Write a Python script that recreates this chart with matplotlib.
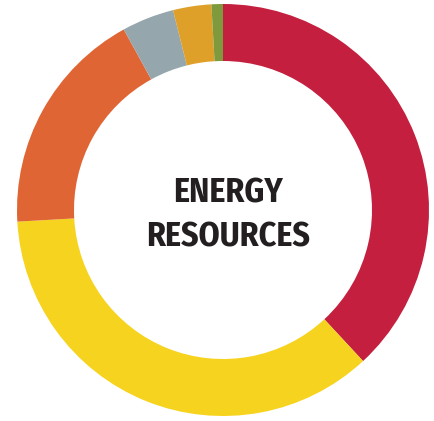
import matplotlib
matplotlib.use("Agg")
import matplotlib.pyplot as plt

# shares of each segment, clockwise from 12 o'clock
labels = ["Red", "Yellow", "Orange", "Grey", "Gold", "Green"]
shares = [38.1, 36.0, 17.9, 4.1, 3.0, 0.9]
colors = ["#C41F3E", "#F6D31F", "#E06534", "#95A6AD", "#DFA02A", "#7E9A3C"]
title_lines = ["ENERGY", "RESOURCES"]

W, H = 435, 421
fig = plt.figure(figsize=(W / 100, H / 100), dpi=100)
ax = fig.add_axes([0, 0, 1, 1])
ax.set_xlim(0, W)
ax.set_ylim(0, H)
ax.set_aspect("equal")
ax.axis("off")

cx, cy, r_out, r_in = 223, H - 210, 206, 149
ax.pie(shares, colors=colors, center=(cx, cy), radius=r_out,
       startangle=90, counterclock=False,
       wedgeprops=dict(width=r_out - r_in, linewidth=0))
ax.set_xlim(0, W)
ax.set_ylim(0, H)

# baselines measured in pixels from the top
for line, y in zip(title_lines, [203, 247]):
    ax.text(228, H - y, line, ha="center", va="baseline",
            fontsize=24.4, fontweight="bold", color="#231F20",
            family=["Fira Sans Condensed", "DejaVu Sans"])

fig.savefig("out.png", dpi=100)
